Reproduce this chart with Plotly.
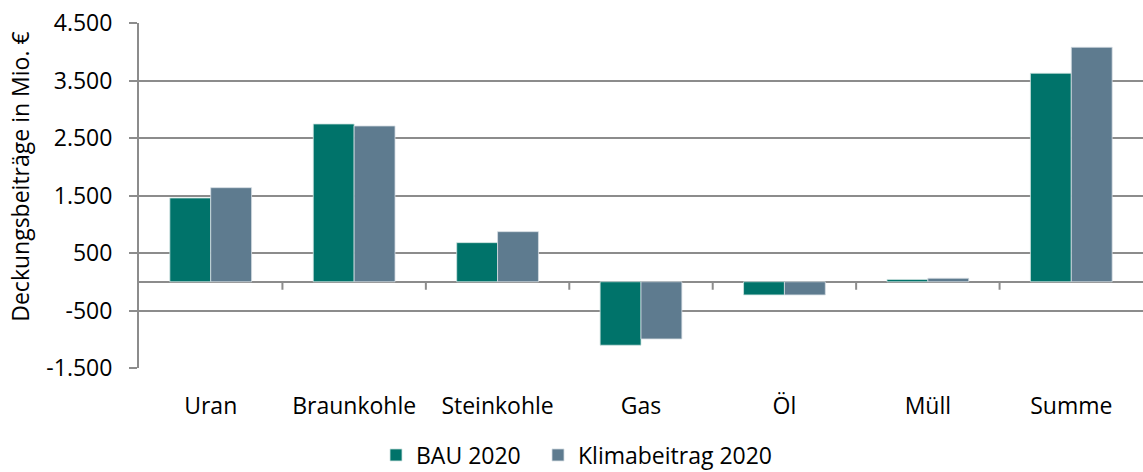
import plotly.graph_objects as go

categories = ["Uran", "Braunkohle", "Steinkohle", "Gas", "Öl", "Müll", "Summe"]
bau_2020 = [1457, 2744, 680, -1104, -229, 40, 3626]
klima_2020 = [1636, 2709, 871, -995, -229, 60, 4078]
y_ticks = [-1500, -500, 500, 1500, 2500, 3500, 4500]
y_title = "Deckungsbeiträge in Mio. €"

FONT = "Open Sans"
FS = 23
GRID = "#8c8c8c"


def fmt(v):
    return f"{v:,}".replace(",", ".")


fig = go.Figure()
fig.add_trace(go.Bar(name="BAU 2020", x=categories, y=bau_2020, legend="legend",
                     marker=dict(color="#00736A", line=dict(color="#cfe3e1", width=0.8))))
fig.add_trace(go.Bar(name="Klimabeitrag 2020", x=categories, y=klima_2020, legend="legend2",
                     marker=dict(color="#5E7B8F", line=dict(color="#d5dde3", width=0.8))))

# tick marks on the zero line between categories
for k in range(len(categories) - 1):
    fig.add_shape(type="line", xref="x", yref="y", x0=k + 0.5, x1=k + 0.5,
                  ysizemode="pixel", yanchor=0, y0=0, y1=-8,
                  line=dict(color=GRID, width=2))

fig.add_annotation(text=y_title, xref="paper", yref="paper", x=-0.118, y=0.553,
                   textangle=-90, showarrow=False, xanchor="center", yanchor="middle",
                   font=dict(family=FONT, size=FS, color="#000"))

legend_common = dict(orientation="h", xref="container", xanchor="left",
                     yref="container", y=0.036, yanchor="middle",
                     font=dict(family=FONT, size=FS), itemwidth=30)

fig.update_layout(
    width=1143, height=472,
    margin=dict(l=139, r=0, t=23, b=104, autoexpand=False),
    plot_bgcolor="white", paper_bgcolor="white",
    barmode="group", bargap=0.43, bargroupgap=0,
    font=dict(family=FONT, size=FS, color="#000"),
    showlegend=True,
    legend=dict(x=376 / 1143, **legend_common),
    legend2=dict(x=538 / 1143, **legend_common),
    xaxis=dict(showgrid=False, showline=False, ticks="", ticklabelstandoff=22,
               tickfont=dict(family=FONT, size=FS)),
    yaxis=dict(range=[-1500, 4500], tickvals=y_ticks, ticktext=[fmt(v) for v in y_ticks],
               showgrid=True, gridcolor=GRID, gridwidth=2,
               zeroline=True, zerolinecolor=GRID, zerolinewidth=2,
               showline=True, linecolor=GRID, linewidth=2,
               ticks="outside", ticklen=8, tickcolor=GRID, tickwidth=2,
               ticklabelstandoff=12,
               tickfont=dict(family=FONT, size=FS)),
)

fig.write_html("out.html", config={"displayModeBar": False},
               post_script="document.body.style.margin='0';")
